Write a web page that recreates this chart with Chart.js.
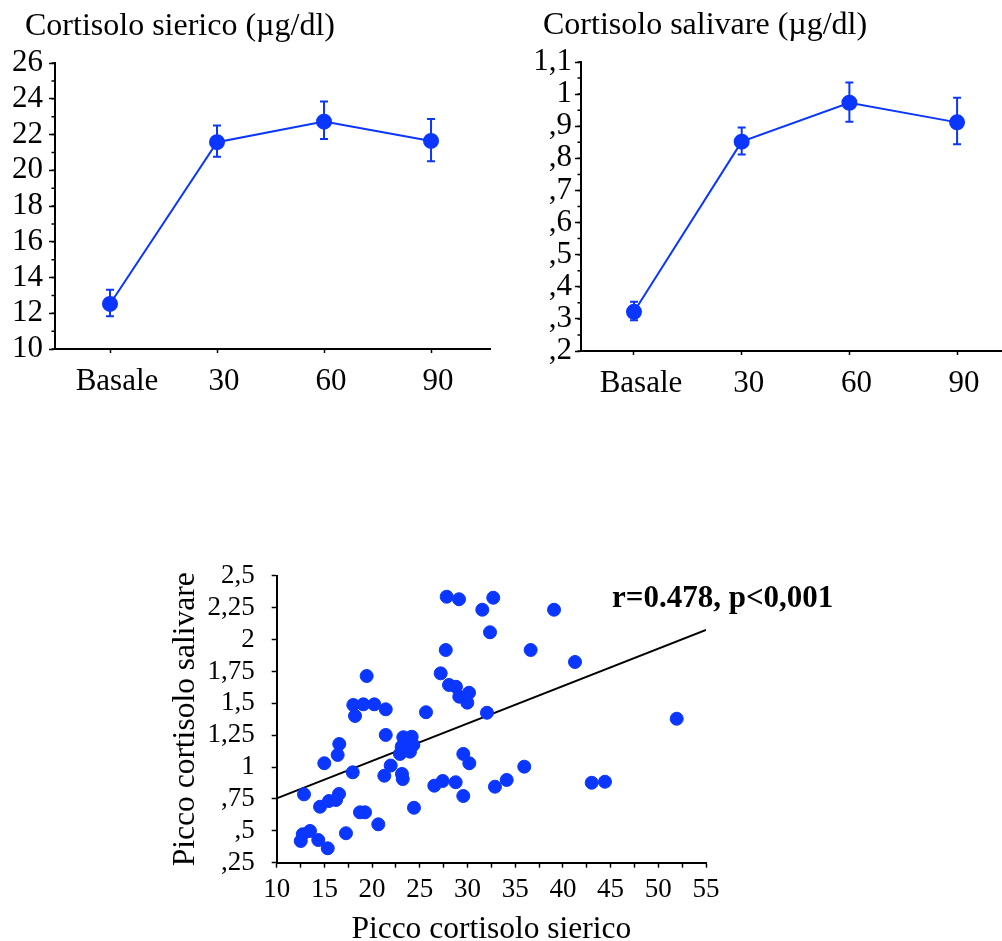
<!DOCTYPE html>
<html>
<head>
<meta charset="utf-8">
<title>Cortisolo</title>
<script src="https://cdn.jsdelivr.net/npm/chart.js@4.4.1/dist/chart.umd.min.js"></script>
<style>
  html, body { margin: 0; padding: 0; background: #fff; width: 1002px; height: 941px; overflow: hidden; }
  canvas { position: absolute; }
  #serum { left: 0; top: 0; }
  #saliva { left: 500px; top: 0; }
  #scatter { left: 0; top: 540px; }
</style>
</head>
<body>
<canvas id="serum" width="500" height="400"></canvas>
<canvas id="saliva" width="520" height="400"></canvas>
<canvas id="scatter" width="1002" height="420"></canvas>
<script>
// time points
const times = ["Basale", "30", "60", "90"];

// cortisolo sierico, media e barre d'errore
const serumMean = [12.52, 21.57, 22.72, 21.64];
const serumHigh = [13.32, 22.5, 23.84, 22.87];
const serumLow = [11.83, 20.75, 21.75, 20.5];

// cortisolo salivare
const salivaMean = [0.322, 0.852, 0.973, 0.912];
const salivaHigh = [0.353, 0.896, 1.036, 0.989];
const salivaLow = [0.296, 0.812, 0.914, 0.844];

// picchi (scatter)
const peakSerum = [
  27.82, 29.11, 31.55, 32.7, 32.36, 27.72, 19.43, 27.19, 39.07, 36.62,
  41.27, 28.06, 28.79, 30.16, 29.14, 29.98, 32.04, 18.03, 19.08, 20.23,
  21.43, 18.21, 25.65, 21.43, 23.27, 24.15, 23.1, 24.32, 22.92, 23.97,
  16.56, 16.39, 14.99, 17.97, 21.95, 29.56, 30.19, 51.93, 35.95, 21.28,
  23.13, 23.21, 26.52, 27.4, 28.76, 29.56, 32.88, 34.11, 43.02, 44.41,
  12.86, 14.54, 15.48, 16.22, 16.53, 18.73, 19.26, 20.65, 24.39, 17.26,
  13.49, 12.73, 12.52, 14.36, 15.35,
];
const peakSaliva = [
  2.336, 2.316, 2.234, 2.328, 2.057, 1.918, 1.714, 1.735, 2.234, 1.918,
  1.824, 1.644, 1.63, 1.583, 1.552, 1.505, 1.426, 1.487, 1.492, 1.492,
  1.453, 1.401, 1.43, 1.252, 1.234, 1.238, 1.16, 1.173, 1.103, 1.121,
  1.181, 1.095, 1.03, 0.959, 1.012, 1.103, 1.03, 1.379, 1.003, 0.932,
  0.946, 0.906, 0.854, 0.891, 0.881, 0.773, 0.846, 0.899, 0.877, 0.885,
  0.786, 0.689, 0.734, 0.742, 0.789, 0.645, 0.645, 0.551, 0.681, 0.481,
  0.499, 0.473, 0.42, 0.428, 0.363,
];

// retta di regressione
const fitX = [10, 55];
const fitY = [0.755, 2.075];

const statText = "r=0.478, p<0,001";

const BLUE = "#0a36ff";
Chart.defaults.font.family = "'Liberation Serif', 'Times New Roman', serif";
Chart.defaults.color = "#000";

// "1.1" -> "1,1", "0.5" -> ",5"
const itFmt = (v) => String(Number(v.toFixed(2))).replace(".", ",").replace(/^0,/, ",");

const errorBars = {
  id: "errorBars",
  beforeDatasetsDraw(chart, args, opts) {
    if (!opts.high) return;
    const { ctx } = chart;
    const x = chart.scales.x, y = chart.scales.y;
    ctx.save();
    ctx.strokeStyle = opts.color;
    ctx.lineWidth = 2;
    ctx.beginPath();
    opts.high.forEach((h, i) => {
      const px = x.getPixelForValue(i);
      const top = y.getPixelForValue(h);
      const bot = y.getPixelForValue(opts.low[i]);
      ctx.moveTo(px, top); ctx.lineTo(px, bot);
      ctx.moveTo(px - 4, top); ctx.lineTo(px + 4, top);
      ctx.moveTo(px - 4, bot); ctx.lineTo(px + 4, bot);
    });
    ctx.stroke();
    ctx.restore();
  },
};

const minorTicks = {
  id: "minorTicks",
  afterDraw(chart, args, opts) {
    if (!opts.step) return;
    const s = chart.scales.y;
    const ctx = chart.ctx;
    const n = Math.round((s.max - s.min) / opts.step);
    ctx.save();
    ctx.strokeStyle = "#000";
    ctx.lineWidth = 1.5;
    ctx.beginPath();
    for (let i = 0; i <= n; i++) {
      const p = s.getPixelForValue(s.min + i * opts.step);
      ctx.moveTo(s.right, p);
      ctx.lineTo(s.right - opts.length, p);
    }
    ctx.stroke();
    ctx.restore();
  },
};

// testo libero (titoli dei pannelli, statistica)
const freeText = {
  id: "freeText",
  afterDatasetsDraw(chart, args, opts) {
    if (!opts.text) return;
    const { ctx } = chart;
    ctx.save();
    ctx.font = opts.font;
    ctx.fillStyle = "#000";
    ctx.textAlign = "left";
    ctx.textBaseline = "middle";
    let x = opts.x, y = opts.y;
    if (opts.onScale) {
      x = chart.scales.x.getPixelForValue(opts.x);
      y = chart.scales.y.getPixelForValue(opts.y);
    }
    ctx.fillText(opts.text, x, y);
    ctx.restore();
  },
};

const axisBorder = { display: true, color: "#000", width: 2 };

function timeChart(id, cfg) {
  return new Chart(document.getElementById(id), {
    type: "line",
    data: {
      datasets: [{
        data: cfg.mean.map((v, i) => ({ x: i, y: v })),
        borderColor: BLUE,
        backgroundColor: BLUE,
        borderWidth: 2,
        pointRadius: 7,
        pointHoverRadius: 7,
      }],
    },
    options: {
      responsive: false,
      animation: false,
      events: [],
      layout: { padding: { left: 0, right: cfg.padRight, top: cfg.padTop, bottom: 0 } },
      plugins: {
        legend: { display: false },
        tooltip: { enabled: false },
        freeText: { text: cfg.title, x: cfg.titleX, y: cfg.titleY, font: "32px 'Liberation Serif'" },
        errorBars: { high: cfg.high, low: cfg.low, color: BLUE },
        minorTicks: { step: cfg.minorStep, length: 3.5 },
      },
      scales: {
        x: {
          type: "linear",
          min: cfg.xMin,
          max: cfg.xMax,
          afterBuildTicks: (s) => { s.ticks = times.map((t, i) => ({ value: i })); },
          afterFit: (s) => { s.height = cfg.xHeight; },
          ticks: { callback: (v) => times[v], font: { size: 31 }, color: "#000", padding: 10, labelOffset: 7, autoSkip: false, maxRotation: 0 },
          grid: { drawOnChartArea: false, drawTicks: true, tickLength: 4, tickColor: "#000", tickWidth: 1.5 },
          border: axisBorder,
        },
        y: {
          min: cfg.yMin,
          max: cfg.yMax,
          afterFit: (s) => { s.width = cfg.yWidth; },
          ticks: { stepSize: cfg.yStep, autoSkip: false, font: { size: 31 }, color: "#000", padding: cfg.yPad, callback: (v) => itFmt(v) },
          grid: { drawOnChartArea: false, drawTicks: true, tickLength: 6, tickColor: "#000", tickWidth: 1.5 },
          border: axisBorder,
        },
      },
    },
    plugins: [errorBars, minorTicks, freeText],
  });
}

timeChart("serum", {
  title: "Cortisolo sierico (µg/dl)", titleX: 25, titleY: 27,
  mean: serumMean, high: serumHigh, low: serumLow,
  padTop: 63, padRight: 10,
  xMin: -0.514, xMax: 3.551, xHeight: 51,
  yMin: 10, yMax: 26, yStep: 2, minorStep: 1, yWidth: 55, yPad: 6,
});

timeChart("saliva", {
  title: "Cortisolo salivare (µg/dl)", titleX: 43, titleY: 26,
  mean: salivaMean, high: salivaHigh, low: salivaLow,
  padTop: 62, padRight: 18,
  xMin: -0.492, xMax: 3.417, xHeight: 49,
  yMin: 0.2, yMax: 1.1, yStep: 0.1, minorStep: 0.05, yWidth: 81, yPad: 3,
});

new Chart(document.getElementById("scatter"), {
  type: "scatter",
  data: {
    datasets: [
      {
        data: peakSerum.map((x, i) => ({ x, y: peakSaliva[i] })),
        backgroundColor: BLUE,
        borderColor: BLUE,
        pointRadius: 6.5,
        pointHoverRadius: 6.5,
        order: 1,
      },
      {
        type: "line",
        data: fitX.map((x, i) => ({ x, y: fitY[i] })),
        borderColor: "#000",
        borderWidth: 2,
        pointRadius: 0,
        showLine: true,
        order: 2,
      },
    ],
  },
  options: {
    responsive: false,
    animation: false,
    events: [],
    layout: { padding: { left: 0, right: 296, top: 35.8, bottom: 0 } },
    plugins: {
      legend: { display: false },
      tooltip: { enabled: false },
      freeText: { text: statText, onScale: true, x: 45.15, y: 2.316, font: "bold 31px 'Liberation Serif'" },
    },
    scales: {
      x: {
        type: "linear",
        min: 10,
        max: 55,
        afterFit: (s) => { s.height = 97.3; },
        ticks: { stepSize: 2.5, autoSkip: false, maxRotation: 0, font: { size: 27 }, color: "#000", padding: 6,
                 callback: (v) => (v % 5 === 0 ? String(v) : "") },
        grid: { drawOnChartArea: false, drawTicks: true, tickLength: 5, tickColor: "#000", tickWidth: 1.5 },
        border: axisBorder,
        title: { display: true, text: "Picco cortisolo sierico", font: { size: 31.5 }, color: "#000", padding: { top: 0, bottom: 11.4 } },
      },
      y: {
        min: 0.25,
        max: 2.5,
        afterFit: (s) => { s.width = 276.7; },
        ticks: { stepSize: 0.25, autoSkip: false, font: { size: 27 }, color: "#000", padding: 17, callback: (v) => itFmt(v) },
        grid: { drawOnChartArea: false, drawTicks: true, tickLength: 5, tickColor: "#000", tickWidth: 1.5 },
        border: axisBorder,
        title: { display: true, text: "Picco cortisolo salivare", font: { size: 31.5 }, color: "#000", padding: { top: 166.4, bottom: 0 } },
      },
    },
  },
  plugins: [freeText],
});
</script>
</body>
</html>
